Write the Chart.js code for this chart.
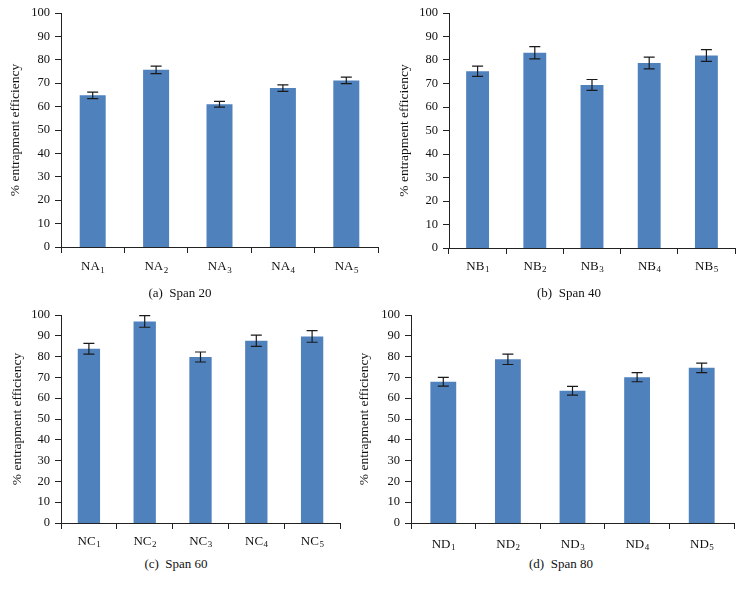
<!DOCTYPE html>
<html>
<head>
<meta charset="utf-8">
<script src="https://cdn.jsdelivr.net/npm/chart.js@4.4.1/dist/chart.umd.min.js"></script>
<style>
  body { margin: 0; background: #fff; }
  #wrap { position: relative; width: 744px; height: 592px; overflow: hidden; }
  canvas { position: absolute; }
  .cap { position: absolute; font-family: "Liberation Serif", serif; font-size: 13px; color: #111; transform: translate(-50%, -50%); white-space: pre; }
</style>
</head>
<body>
<div id="wrap">
  <canvas id="ca"></canvas>
  <canvas id="cb"></canvas>
  <canvas id="cc"></canvas>
  <canvas id="cd"></canvas>
  <div class="cap" style="left:180px; top:293px;">(a)  Span 20</div>
  <div class="cap" style="left:569px; top:293px;">(b)  Span 40</div>
  <div class="cap" style="left:176px; top:564px;">(c)  Span 60</div>
  <div class="cap" style="left:561px; top:564px;">(d)  Span 80</div>
</div>
<script>
// categories (name + subscript number)
const labelsA = ['NA₁', 'NA₂', 'NA₃', 'NA₄', 'NA₅'];
const labelsB = ['NB₁', 'NB₂', 'NB₃', 'NB₄', 'NB₅'];
const labelsC = ['NC₁', 'NC₂', 'NC₃', 'NC₄', 'NC₅'];
const labelsD = ['ND₁', 'ND₂', 'ND₃', 'ND₄', 'ND₅'];

// % entrapment efficiency (mean) and error (+/-)
const valuesA = [64.8, 75.7, 61.0, 67.9, 71.2];
const errorsA = [1.4, 1.6, 1.2, 1.4, 1.4];
const valuesB = [75.2, 83.1, 69.4, 78.7, 81.9];
const errorsB = [2.2, 2.6, 2.3, 2.5, 2.5];
const valuesC = [83.8, 96.9, 79.8, 87.6, 89.7];
const errorsC = [2.6, 2.8, 2.4, 2.7, 2.8];
const valuesD = [67.9, 78.7, 63.6, 70.1, 74.6];
const errorsD = [2.1, 2.5, 2.1, 2.2, 2.3];

const yTitle = '% entrapment efficiency';
const FONT = '"Liberation Serif", "Times New Roman", serif';
const SUBS = '₀₁₂₃₄₅₆₇₈₉';

// error bar plugin: draws whiskers from the dataset's errors using the chart scales
const errorBars = {
    id: 'errorBars',
    afterDatasetsDraw(chart) {
        const ctx = chart.ctx;
        const errs = chart.data.datasets[0].errors;
        const meta = chart.getDatasetMeta(0);
        const y = chart.scales.y;
        ctx.save();
        ctx.strokeStyle = '#1a1a1a';
        ctx.lineWidth = 1.2;
        meta.data.forEach((bar, i) => {
            const v = chart.data.datasets[0].data[i];
            const yTop = y.getPixelForValue(v + errs[i]);
            const yBot = y.getPixelForValue(v - errs[i]);
            const x = bar.x;
            const w = 5.5;
            ctx.beginPath();
            ctx.moveTo(x, yTop); ctx.lineTo(x, yBot);
            ctx.moveTo(x - w, yTop); ctx.lineTo(x + w, yTop);
            ctx.moveTo(x - w, yBot); ctx.lineTo(x + w, yBot);
            ctx.stroke();
        });
        ctx.restore();
    }
};

// category labels with a real subscript (smaller, lowered digit)
const subLabels = {
    id: 'subLabels',
    afterDraw(chart, args, opts) {
        const ctx = chart.ctx;
        const x = chart.scales.x;
        const base = x.top + opts.offset;
        ctx.save();
        ctx.fillStyle = '#111';
        ctx.textBaseline = 'alphabetic';
        chart.data.labels.forEach((lab, i) => {
            const last = lab.slice(-1);
            const idx = SUBS.indexOf(last);
            const main = idx >= 0 ? lab.slice(0, -1) : lab;
            const sub = idx >= 0 ? String(idx) : '';
            ctx.font = '13px ' + FONT;
            const wMain = ctx.measureText(main).width;
            ctx.font = '9px ' + FONT;
            const wSub = ctx.measureText(sub).width;
            const cx = x.getPixelForValue(i);
            const left = cx - (wMain + wSub) / 2;
            ctx.textAlign = 'left';
            ctx.font = '13px ' + FONT;
            ctx.fillText(main, left, base);
            ctx.font = '9px ' + FONT;
            ctx.fillText(sub, left + wMain + 0.5, base + 2.5);
        });
        ctx.restore();
    }
};

function makePanel(id, box, labels, values, errors, barPct) {
    const cv = document.getElementById(id);
    cv.style.left = box.cx + 'px';
    cv.style.top = box.cy + 'px';
    cv.width = box.w;
    cv.height = box.h;
    cv.style.width = box.w + 'px';
    cv.style.height = box.h + 'px';

    const padLeft = box.padLeft;
    const yWidth = box.axisX - box.cx - padLeft;
    const xHeight = box.h - (box.plotBottom - box.cy);

    return new Chart(cv.getContext('2d'), {
        type: 'bar',
        data: {
            labels: labels,
            datasets: [{
                data: values,
                errors: errors,
                backgroundColor: '#4F81BD',
                borderWidth: 0,
                base: -0.5,
                categoryPercentage: 1.0,
                barPercentage: barPct
            }]
        },
        options: {
            responsive: false,
            animation: false,
            devicePixelRatio: 1,
            layout: {
                padding: {
                    left: padLeft,
                    top: box.plotTop - box.cy,
                    right: box.cx + box.w - box.plotRight,
                    bottom: 0
                }
            },
            plugins: {
                legend: { display: false },
                tooltip: { enabled: false },
                subLabels: { offset: box.labelOffset }
            },
            scales: {
                x: {
                    grid: { display: true, drawOnChartArea: false, drawTicks: true, tickLength: 6, tickColor: '#222', offset: true },
                    border: { display: true, color: '#222', width: 1, z: 1 },
                    ticks: { display: false },
                    afterFit(scale) { scale.height = xHeight; }
                },
                y: {
                    min: 0,
                    max: 100,
                    grid: { display: true, drawOnChartArea: false, drawTicks: true, tickLength: 6, tickColor: '#222' },
                    border: { display: true, color: '#222', width: 1 },
                    ticks: { stepSize: 10, color: '#111', font: { family: FONT, size: 12.5 }, padding: 5 },
                    title: { display: true, text: yTitle, color: '#111', font: { family: FONT, size: 13.5 }, padding: { top: 4, bottom: 4 } },
                    afterFit(scale) { scale.width = yWidth; }
                }
            }
        },
        plugins: [errorBars, subLabels]
    });
}

document.addEventListener('DOMContentLoaded', () => {
    makePanel('ca', { cx: 0, cy: 0, w: 380, h: 282, axisX: 61, plotTop: 13, plotBottom: 247, plotRight: 378, padLeft: 3, labelOffset: 23 }, labelsA, valuesA, errorsA, 0.41);
    makePanel('cb', { cx: 380, cy: 0, w: 364, h: 282, axisX: 449, plotTop: 13, plotBottom: 248, plotRight: 735, padLeft: 12, labelOffset: 21.5 }, labelsB, valuesB, errorsB, 0.4);
    makePanel('cc', { cx: 0, cy: 296, w: 348, h: 258, axisX: 61, plotTop: 315, plotBottom: 523, plotRight: 340, padLeft: 5, labelOffset: 21.5 }, labelsC, valuesC, errorsC, 0.4);
    makePanel('cd', { cx: 350, cy: 296, w: 394, h: 258, axisX: 411, plotTop: 315, plotBottom: 523, plotRight: 734, padLeft: 2, labelOffset: 24.5 }, labelsD, valuesD, errorsD, 0.4);
});
</script>
</body>
</html>
